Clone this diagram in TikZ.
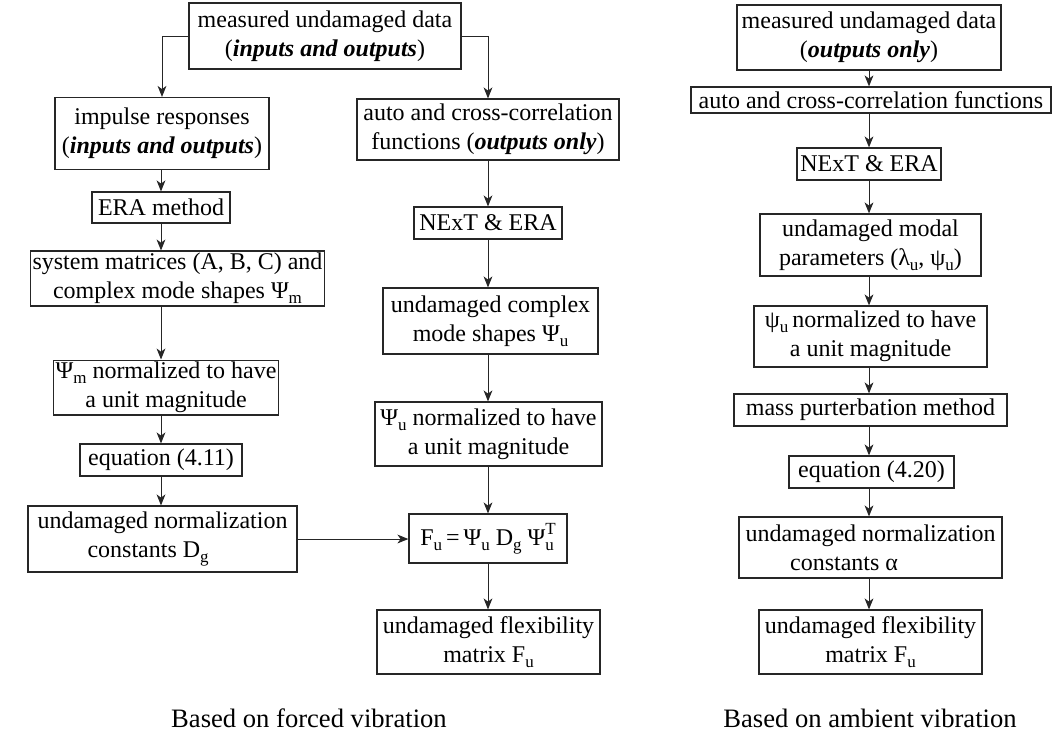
\documentclass[tikz,border=0pt]{standalone}
\usepackage{fontspec}
\setmainfont{Liberation Serif}
\usetikzlibrary{arrows.meta}
\newcommand{\sbs}[1]{\raisebox{-2.6pt}{\fontsize{8.5}{8.5}\selectfont #1}}
\newcommand{\sps}[1]{\raisebox{5.4pt}{\fontsize{8.5}{8.5}\selectfont #1}}
\newcommand{\sbsps}[2]{\makebox[0pt][l]{\sbs{#1}}\sps{#2}}
\newcommand{\bi}[1]{\textbf{\textit{#1}}}
\tikzset{
  krok/.style={draw=black!85,line width=0.6pt,rectangle,inner sep=1pt,align=center},
  sip/.style={-{Stealth[length=5.5pt,width=4.4pt,inset=1.6pt]},line width=0.5pt,draw=black!85},
  popis/.style={anchor=base,font=\fontsize{13.3}{16}\selectfont},
}

\begin{document}
\begin{tikzpicture}[x=0.5pt,y=-0.5pt,font=\fontsize{12}{14.5}\selectfont]
  \useasboundingbox (0,0) rectangle (1052,736);
  % forced vibration
  \node[krok,minimum width=136pt,minimum height=33pt] (meas1) at (325,36)
    {measured undamaged data\\(\bi{inputs and outputs})};
  \node[krok,minimum width=107pt,minimum height=36pt] (imp) at (162,133.5)
    {impulse responses\\(\bi{inputs and outputs})};
  \node[krok,minimum width=69pt,minimum height=15.5pt] (era) at (161,207.5) {ERA method};
  \node[krok,minimum width=134.5pt,minimum height=26.5pt] (sys) at (177.5,278.5)
    {system matrices (A, B, C) and\\complex mode shapes Ψ\sbs{m}};
  \node[krok,minimum width=112pt,minimum height=25.5pt] (psim) at (166,387.5)
    {Ψ\sbs{m} normalized to have\\a unit magnitude};
  \node[krok,minimum width=81pt,minimum height=16pt] (eq411) at (161,460) {equation (4.11)};
  \node[krok,minimum width=134.5pt,minimum height=33pt] (dg) at (162.5,539)
    {undamaged normalization\\constants D\sbs{g}\hspace*{1.2em}};
  \node[krok,minimum width=131pt,minimum height=30.5pt] (auto) at (488,129.5)
    {auto and cross-correlation\\functions (\bi{outputs only})};
  \node[krok,minimum width=74pt,minimum height=16pt] (next) at (488,223) {NExT \& ERA};
  \node[krok,minimum width=107.5pt,minimum height=33pt] (cms) at (490.5,321)
    {undamaged complex\\mode shapes Ψ\sbs{u}};
  \node[krok,minimum width=113.5pt,minimum height=32pt] (psiu) at (488.5,434)
    {Ψ\sbs{u} normalized to have\\a unit magnitude};
  \node[krok,minimum width=79pt,minimum height=24.5pt] (fu) at (488,538.5)
    {F\sbs{u}\,=\,Ψ\sbs{u} D\sbs{g} Ψ\sbsps{u}{T}};
  \node[krok,minimum width=111.5pt,minimum height=32pt] (flexu) at (488.5,642)
    {undamaged flexibility\\matrix F\sbs{u}};
  \draw[sip] (meas1.west) -| (imp.north);
  \draw[sip] (meas1.east) -| (auto.north);
  \draw[sip] (imp.south -| era) -- (era.north);
  \draw[sip] (era.south) -- (sys.north -| era);
  \draw[sip] (sys.south -| era) -- (psim.north -| era);
  \draw[sip] (psim.south -| era) -- (eq411.north);
  \draw[sip] (eq411.south) -- (dg.north -| eq411);
  \draw[sip] (auto.south) -- (next.north);
  \draw[sip] (next.south) -- (cms.north -| next);
  \draw[sip] (cms.south -| next) -- (psiu.north -| next);
  \draw[sip] (psiu.south -| next) -- (fu.north);
  \draw[sip] (fu.south) -- (flexu.north -| fu);
  \draw[sip] (dg.east) -- (dg.east -| fu.west);
  \node[popis] (cap1) at (309,727) {Based on forced vibration};
  % ambient vibration
  \node[krok,minimum width=132pt,minimum height=32.5pt] (meas2) at (869,37.5)
    {measured undamaged data\\(\bi{outputs only})};
  \node[krok,minimum width=180pt,minimum height=13pt] (auto2) at (871,100)
    {auto and cross-correlation functions};
  \node[krok,minimum width=72pt,minimum height=16pt] (next2) at (869,164) {NExT \& ERA};
  \node[krok,minimum width=110.5pt,minimum height=31pt] (modal) at (870.5,245)
    {undamaged modal\\parameters (λ\sbs{u}, ψ\sbs{u})};
  \node[krok,minimum width=116.5pt,minimum height=30.5pt] (psiu2) at (870.5,336.5)
    {ψ\sbs{u}\,normalized to have\\a unit magnitude};
  \node[krok,minimum width=136.5pt,minimum height=16pt] (mass) at (870.5,410)
    {mass purterbation method};
  \node[krok,minimum width=82.5pt,minimum height=16pt] (eq420) at (871.5,472) {equation (4.20)};
  \node[krok,minimum width=131.5pt,minimum height=30.5pt] (alpha) at (870.5,547.5)
    {undamaged normalization\\constants α\hspace*{2.2em}};
  \node[krok,minimum width=111.5pt,minimum height=32pt] (flex2) at (870.5,642)
    {undamaged flexibility\\matrix F\sbs{u}};
  \draw[sip] (meas2.south -| next2) -- (auto2.north -| next2);
  \draw[sip] (auto2.south -| next2) -- (next2.north);
  \draw[sip] (next2.south) -- (modal.north -| next2);
  \draw[sip] (modal.south -| next2) -- (psiu2.north -| next2);
  \draw[sip] (psiu2.south -| next2) -- (mass.north -| next2);
  \draw[sip] (mass.south -| next2) -- (eq420.north -| next2);
  \draw[sip] (eq420.south -| next2) -- (alpha.north -| next2);
  \draw[sip] (alpha.south -| next2) -- (flex2.north -| next2);
  \node[popis] (cap2) at (870,727) {Based on ambient vibration};
\end{tikzpicture}
\end{document}
